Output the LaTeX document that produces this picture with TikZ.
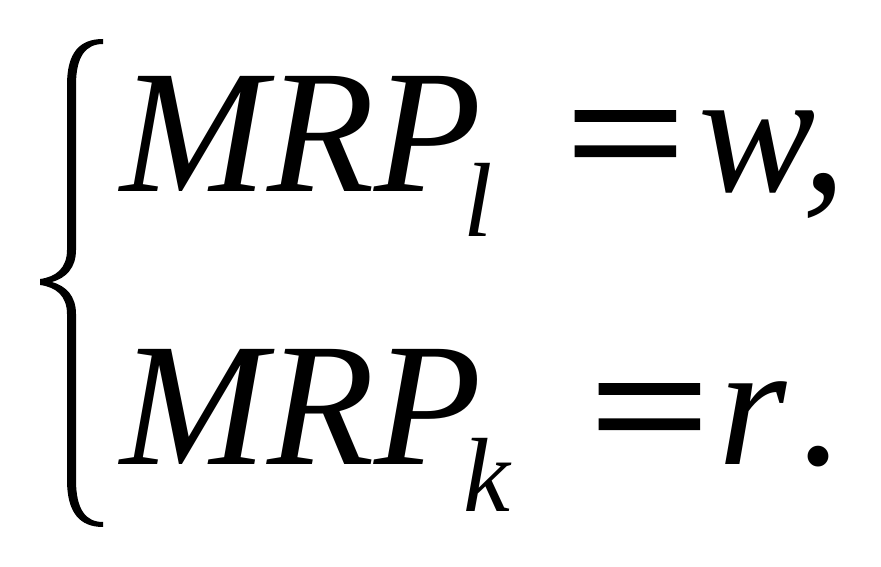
\documentclass[tikz,border=0pt]{standalone}
\usepackage{fontspec}
\setmainfont{Liberation Serif}
\usepackage{tikz}

\tikzset{
  big/.style={inner sep=0pt, anchor=base west, font=\fontsize{50}{60}\selectfont},
  small/.style={inner sep=0pt, anchor=base west, font=\fontsize{30}{36}\selectfont\itshape},
  equal/.style={big, font=\fontsize{50}{60}\selectfont\addfontfeature{FakeBold=1.6}}
}
\newcommand{\wideeq}{\scalebox{1.2}[1]{=}}

\begin{document}
\begin{tikzpicture}[x=0.01cm, y=-0.01cm]
\useasboundingbox (0,0) rectangle (881,567) ;
% brace
\fill (103,39) .. controls (80,39) and (67,52) .. (67,85)
  -- (67,250) .. controls (67,268) and (56,277) .. (40,279)
  -- (40,285) .. controls (56,287) and (67,296) .. (67,314)
  -- (67,480) .. controls (67,513) and (80,527) .. (103,527)
  -- (103,522) .. controls (86,522) and (76,510) .. (76,480)
  -- (76,314) .. controls (76,296) and (66,286) .. (52,282)
  .. controls (66,278) and (76,268) .. (76,250)
  -- (76,85) .. controls (76,56) and (86,44) .. (103,44) -- cycle ;
% first line
\node[big] (mrpl) at (120,192) {\itshape MRP} ;
\node[small] (l) at (463,237) {l} ;
\node[equal] (eql) at (565,192) {\wideeq} ;
\node[big] (w) at (698,192) {\itshape w,} ;
% second line
\node[big] (mrpk) at (120,465) {\itshape MRP} ;
\node[small] (k) at (463,512) {k} ;
\node[equal] (eqk) at (589,465) {\wideeq} ;
\node[big] (r) at (718,465) {\itshape r} ;
\node[big] (dot) at (796,465) {.} ;
\end{tikzpicture}
\end{document}
